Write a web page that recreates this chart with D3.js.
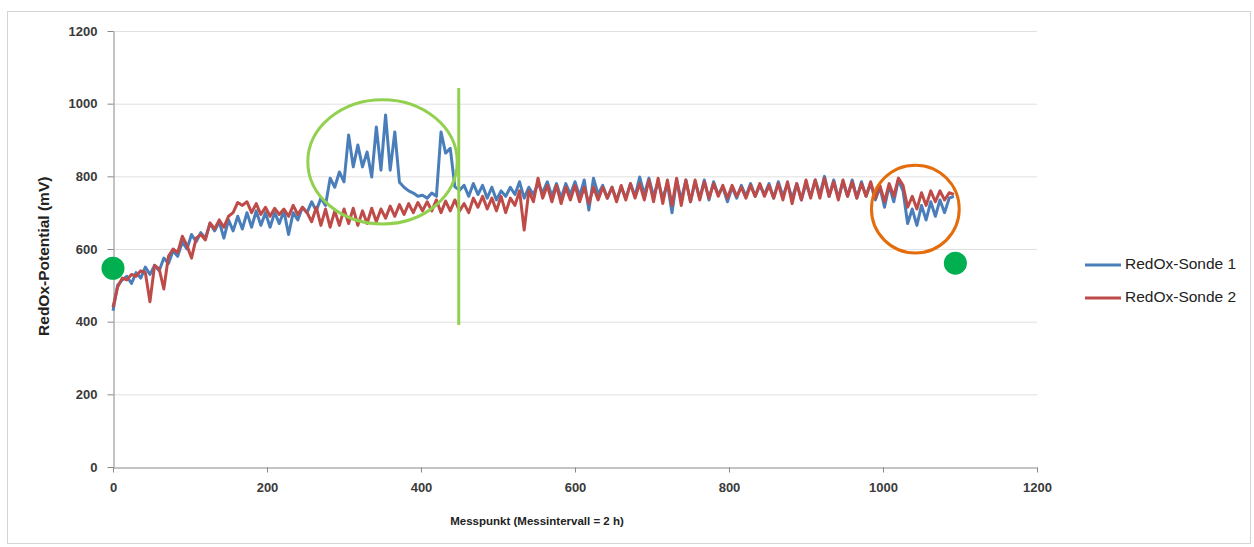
<!DOCTYPE html>
<html>
<head>
<meta charset="utf-8">
<script src="https://cdn.jsdelivr.net/npm/d3@7"></script>
<style>
  body { margin: 0; background: #fff; }
</style>
</head>
<body>
<div id="my_dataviz"></div>
<script>
// messpunkt every 6 points, 0 .. 1092
const messpunkt = d3.range(0, 1093, 6);

// RedOx-Sonde 1 (mV)
const sonde1 = [
  430, 500, 515, 525, 505, 535, 520, 550, 530, 555, 540,
  575, 560, 595, 580, 620, 600, 640, 620, 645, 630, 670, 650, 675, 630, 680,
  650, 690, 655, 700, 660, 705, 665, 700, 660, 700, 670, 705, 640, 700, 680, 715, 700,
  730, 705, 740, 720, 795, 770, 812, 785,
  914, 826, 886, 826, 867, 798, 936, 817, 969, 817, 922, 784, 770, 760, 754, 745, 748, 740, 754, 745, 922, 864, 877, 771, 762,
  775, 745, 780, 750, 775, 740, 770, 735, 760, 745, 770, 750, 785, 740, 770, 750,
  780, 755, 785, 745, 780, 740, 780, 750, 785, 745, 790, 707, 795, 750, 775, 740, 770, 735, 770, 740, 780, 745, 798, 750, 795,
  745, 785, 740, 780, 700, 790, 735, 790, 730, 785, 740, 790, 735, 785, 750, 770, 730, 770, 740, 775, 745, 780, 745, 775, 750, 780, 740, 785, 745, 780, 740, 780, 735, 780,
  745, 790, 750, 800, 745, 790, 740, 785, 745, 790, 740, 785, 745, 780, 735, 770, 715, 775, 730, 790, 760, 670, 710, 665, 720, 680, 730, 690, 735, 700, 740, 745
];

// RedOx-Sonde 2 (mV)
const sonde2 = [
  440, 495, 520, 515, 530, 525, 540, 535, 455, 555, 545,
  490, 580, 600, 590, 635, 610, 575, 630, 640, 625, 672, 655, 680, 660, 690,
  700, 728, 720, 730, 700, 725, 695, 715, 690, 712, 695, 710, 690, 720, 695, 715, 700,
  675, 715, 665, 710, 660, 705, 665, 710,
  670, 712, 665, 705, 670, 712, 675, 710, 685, 718, 690, 722, 695, 725, 700, 728, 705, 730, 705, 735, 700, 732, 705, 735, 705,
  725, 700, 740, 715, 745, 710, 740, 705, 745, 700, 740, 720, 760, 652, 760, 730,
  795, 740, 775, 730, 775, 725, 770, 735, 775, 730, 770, 725, 770, 735, 770, 740, 770, 730, 775, 735, 780, 740, 780, 735, 790,
  730, 795, 725, 790, 720, 795, 720, 790, 730, 790, 735, 785, 740, 780, 745, 775, 740, 775, 745, 770, 740, 775, 745, 780, 745, 775, 740, 780, 735, 785, 725, 780, 735, 790,
  740, 790, 740, 795, 745, 785, 735, 790, 745, 785, 740, 780, 745, 785, 740, 775, 730, 780, 745, 795, 775, 715, 745, 710, 755, 720, 760, 730, 760, 735, 755, 750
];

const seriesNames = ["RedOx-Sonde 1", "RedOx-Sonde 2"];
const seriesColors = ["#4a7ebb", "#be4b48"];
const xTicks = [0, 200, 400, 600, 800, 1000, 1200];
const yTicks = [0, 200, 400, 600, 800, 1000, 1200];

// hand drawn marks on the chart, in data units
const markLine = {x: 449, y0: 391, y1: 1043};
const markEllipse = {x: 350, y: 840, rx: 97, ry: 171};
const markCircle = {x: 1042, y: 710, rx: 57};
const markDots = [{x: 0, y: 547}, {x: 1094, y: 561}];

const W = 1254, H = 547;
const margin = {top: 31, right: 217, bottom: 80, left: 113};

const svg = d3.select("#my_dataviz")
  .append("svg")
  .attr("xmlns", "http://www.w3.org/2000/svg")
  .attr("width", W)
  .attr("height", H)
  .style("font-family", "'Liberation Sans', Arial, sans-serif");

// outer frame
svg.append("rect")
  .attr("x", 7.5).attr("y", 11.5)
  .attr("width", W - 11).attr("height", H - 15)
  .attr("fill", "#fff")
  .attr("stroke", "#d4d4d4");

const x = d3.scaleLinear()
  .domain([0, 1200])
  .range([margin.left, W - margin.right]);
const y = d3.scaleLinear()
  .domain([0, 1200])
  .range([H - margin.bottom, margin.top]);

// gridlines
svg.append("g")
  .selectAll("line")
  .data(yTicks.slice(1))
  .join("line")
  .attr("x1", x(0)).attr("x2", x(1200))
  .attr("y1", d => y(d) + 0.5).attr("y2", d => y(d) + 0.5)
  .attr("stroke", "#e0e0e0");

// y axis
const yAxis = svg.append("g")
  .attr("transform", "translate(" + (x(0) + 0.5) + ",0)")
  .call(d3.axisLeft(y).tickValues(yTicks).tickFormat(d3.format("d"))
    .tickSize(6).tickSizeOuter(0).tickPadding(10));
// x axis
const xAxis = svg.append("g")
  .attr("transform", "translate(0," + (y(0) + 0.5) + ")")
  .call(d3.axisBottom(x).tickValues(xTicks).tickFormat(d3.format("d"))
    .tickSize(5).tickSizeOuter(0).tickPadding(10));

[yAxis, xAxis].forEach(a => {
  a.select(".domain").attr("stroke", "#888");
  a.selectAll(".tick line").attr("stroke", "#888");
  a.selectAll(".tick text")
    .attr("fill", "#3a3a3a")
    .style("font-size", "13px")
    .style("font-weight", "bold");
});

// axis titles
svg.append("text")
  .attr("transform", "translate(49," + y(580) + ") rotate(-90)")
  .attr("text-anchor", "middle")
  .style("font-size", "15.5px")
  .style("font-weight", "bold")
  .attr("fill", "#222")
  .text("RedOx-Potential (mV)");
svg.append("text")
  .attr("x", 537).attr("y", 525)
  .attr("text-anchor", "middle")
  .style("font-size", "11.5px")
  .style("font-weight", "bold")
  .attr("fill", "#222")
  .text("Messpunkt (Messintervall = 2 h)");

// the two series
const line = d3.line()
  .x((d, i) => x(messpunkt[i]))
  .y(d => y(d));

[sonde1, sonde2].forEach((s, k) => {
  svg.append("path")
    .datum(s)
    .attr("fill", "none")
    .attr("stroke", seriesColors[k])
    .attr("stroke-width", 3)
    .attr("stroke-linejoin", "round")
    .attr("d", line);
});

// legend
seriesNames.forEach((name, k) => {
  const ly = 265 + k * 33;
  svg.append("line")
    .attr("x1", 1085).attr("x2", 1121)
    .attr("y1", ly).attr("y2", ly)
    .attr("stroke", seriesColors[k])
    .attr("stroke-width", 3);
  svg.append("text")
    .attr("x", 1125).attr("y", ly)
    .attr("dominant-baseline", "middle")
    .style("font-size", "15.5px")
    .attr("fill", "#222")
    .text(name);
});

// annotations
svg.append("line")
  .attr("x1", x(markLine.x)).attr("x2", x(markLine.x))
  .attr("y1", y(markLine.y1)).attr("y2", y(markLine.y0))
  .attr("stroke", "#92d050")
  .attr("stroke-width", 3);
svg.append("ellipse")
  .attr("cx", x(markEllipse.x)).attr("cy", y(markEllipse.y))
  .attr("rx", x(markEllipse.rx) - x(0))
  .attr("ry", y(0) - y(markEllipse.ry))
  .attr("fill", "none")
  .attr("stroke", "#92d050")
  .attr("stroke-width", 3);
svg.append("circle")
  .attr("cx", x(markCircle.x)).attr("cy", y(markCircle.y))
  .attr("r", x(markCircle.rx) - x(0))
  .attr("fill", "none")
  .attr("stroke", "#e46c0a")
  .attr("stroke-width", 3);
svg.append("g")
  .selectAll("circle")
  .data(markDots)
  .join("circle")
  .attr("cx", d => x(d.x)).attr("cy", d => y(d.y))
  .attr("r", 11.5)
  .attr("fill", "#00b050");
</script>
</body>
</html>
